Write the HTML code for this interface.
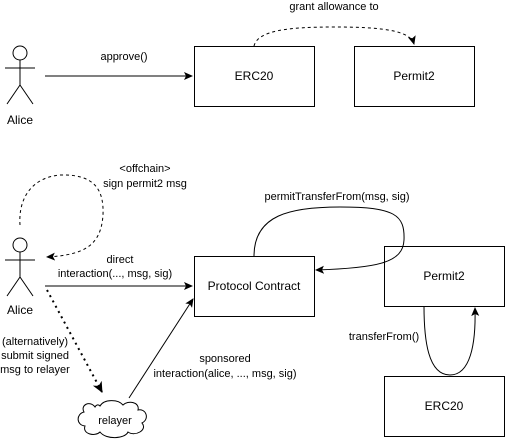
<!DOCTYPE html>
<html><head><style>body{margin:0;background:#fff}svg{display:block}text{font-family:"Liberation Sans",sans-serif;font-size:11px;fill:#000}</style></head><body>
<svg width="506" height="447" viewBox="0 0 506 447">
<defs><marker id="a" markerWidth="10" markerHeight="10" refX="8" refY="5" orient="auto" markerUnits="userSpaceOnUse"><path d="M0,1 L9,5 L0,9 L2,5 Z" fill="#000"/></marker>
<marker id="b" markerWidth="14" markerHeight="14" refX="10" refY="6" orient="auto" markerUnits="userSpaceOnUse"><path d="M0,1 L11,6 L0,11 L3,6 Z" fill="#000"/></marker></defs>
<g fill="#fff" stroke="#000">
<rect x="194.5" y="46.5" width="120" height="60"/>
<rect x="354.5" y="46.5" width="120" height="60"/>
<rect x="194.5" y="256.5" width="120" height="60"/>
<rect x="384.5" y="246.5" width="120" height="60"/>
<rect x="384.5" y="376.5" width="120" height="60"/>
</g>
<g text-anchor="middle">
<text x="254" y="80" style="font-size:12px">ERC20</text>
<text x="414" y="80" style="font-size:12px">Permit2</text>
<text x="254" y="290" style="font-size:12px">Protocol Contract</text>
<text x="444" y="280" style="font-size:12px">Permit2</text>
<text x="444" y="410" style="font-size:12px">ERC20</text>
</g>
<g fill="#fff" stroke="#000">
<circle cx="20" cy="53" r="7"/><path d="M20,60V85M5,68H35M20,85L7,104M20,85L33,104" fill="none"/>
<circle cx="20" cy="245" r="7"/><path d="M20,252V277M5,260H35M20,277L7,296M20,277L33,296" fill="none"/>
</g>
<text x="20" y="124" text-anchor="middle" style="font-size:12px">Alice</text>
<text x="20" y="314" text-anchor="middle" style="font-size:12px">Alice</text>
<g fill="none" stroke="#000">
<path d="M45,76H192" marker-end="url(#a)"/>
<path d="M254,46C258,30 290,27 334,27C380,27 410,30 414,44" stroke-dasharray="3,3" marker-end="url(#a)"/>
<path d="M20,225C18,195 35,177 60,175C95,174 104,190 103,215C101,245 85,255 47,257" stroke-dasharray="3,3" marker-end="url(#a)"/>
<path d="M45,286H192" marker-end="url(#a)"/>
<path d="M47,290L102,392" stroke-dasharray="2,4" stroke-width="2" marker-end="url(#b)"/>
<path d="M129,398L193,299" marker-end="url(#a)"/>
<path d="M254,256C254,215 290,207 340,207C395,207 405,215 404,240C403,262 380,268 316,270" marker-end="url(#a)"/>
<path d="M424,306C424,340 428,375 450,375C470,375 476,345 475,308" marker-end="url(#a)"/>
<path d="M95,407C90,400 80,405 84,412C76,414 76,425 85,426C82,434 95,437 100,432C106,440 125,439 128,432C135,437 148,430 142,423C150,419 146,408 138,410C140,402 128,400 123,405C118,399 104,399 100,406C98,404 96,405 95,407Z" fill="#fff"/>
</g>
<text x="115" y="424" text-anchor="middle">relayer</text>
<g text-anchor="middle">
<text x="124" y="60">approve()</text>
<text x="334" y="10">grant allowance to</text>
<text x="145" y="172">&lt;offchain&gt;</text>
<text x="145" y="187">sign permit2 msg</text>
<text x="120" y="263">direct</text>
<text x="115" y="277">interaction(..., msg, sig)</text>
<text x="35" y="345">(alternatively)</text>
<text x="35" y="359">submit signed</text>
<text x="35" y="373">msg to relayer</text>
<text x="225" y="362">sponsored</text>
<text x="225" y="377">interaction(alice, ..., msg, sig)</text>
<text x="337" y="200">permitTransferFrom(msg, sig)</text>
<text x="384" y="340">transferFrom()</text>
</g>
</svg>
</body></html>
